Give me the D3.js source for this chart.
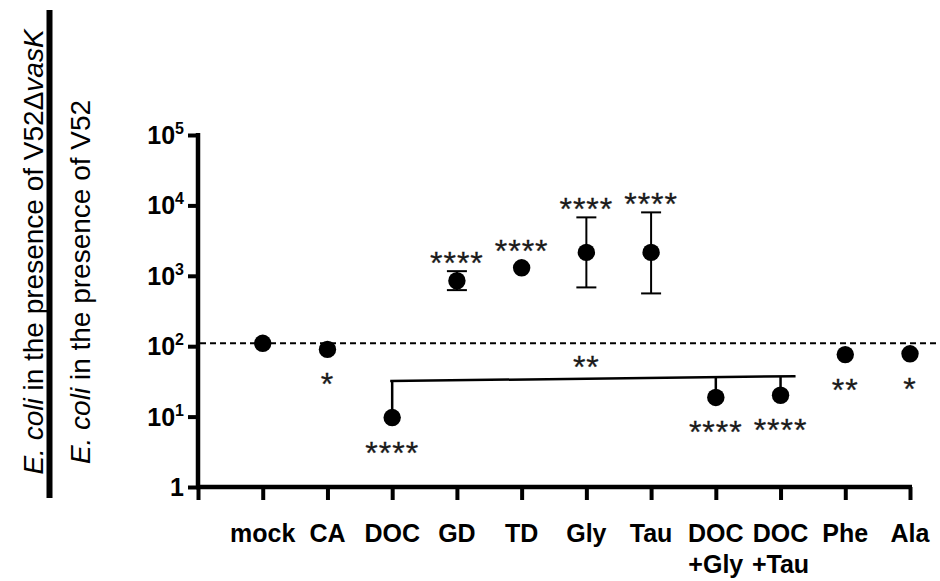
<!DOCTYPE html>
<html><head><meta charset="utf-8">
<script src="https://cdn.jsdelivr.net/npm/d3@7"></script>
<style>body{margin:0;background:#fff;} svg{display:block;}</style>
</head><body>
<svg id="chart" width="940" height="581"></svg>
<script>
// ---- data ----
const categories = ["mock","CA","DOC","GD","TD","Gly","Tau","DOC\n+Gly","DOC\n+Tau","Phe","Ala"];
const means      = [110, 90, 9.7, 850, 1300, 2150, 2150, 18.7, 20.1, 76, 78];
const errLow     = [null, null, null, 626, null, 684, 562, null, null, null, null];
const errHigh    = [null, null, null, 1164, null, 6760, 7960, null, null, null, null];
const significance = ["", "*", "****", "****", "****", "****", "****", "****", "****", "**", "*"];
const sigSide      = ["", "below", "below", "above", "above", "above", "above", "below", "below", "below", "below"];
const yTickValues    = [1, 10, 100, 1000, 10000, 100000];
const yTickExponents = ["", "1", "2", "3", "4", "5"];
const referenceLevel = 110;
const bracketGroup   = ["DOC", "DOC\n+Gly", "DOC\n+Tau"];
const bracketLevels  = [32, 37.5];   // bracket height at left / right end
const bracketLabel   = "**";

// ---- chart ----
const svg = d3.select("#chart");
const FONT = "'Liberation Sans', Arial, Helvetica, sans-serif";
const x = d3.scaleLinear().domain([0, categories.length]).range([198, 910]);
const y = d3.scaleLog().domain([1, 1e5]).range([487, 135]);
const xi = c => x(categories.indexOf(c) + 1);

// y axis ticks
const gy = svg.append("g").attr("transform", `translate(${x(0)},0)`)
  .call(d3.axisLeft(y).tickValues(yTickValues).tickSize(10).tickSizeOuter(0).tickFormat(""));
gy.select(".domain").remove();
gy.selectAll(".tick line").attr("stroke", "#000").attr("stroke-width", 4);

// x axis ticks
const gx = svg.append("g").attr("transform", `translate(0,${y(1)})`)
  .call(d3.axisBottom(x).tickValues(d3.range(0, categories.length + 1)).tickSize(13).tickSizeOuter(0).tickFormat(""));
gx.select(".domain").remove();
gx.selectAll(".tick line").attr("stroke", "#000").attr("stroke-width", 4);

// axis lines
svg.append("line").attr("x1", x(0)).attr("x2", x(0)).attr("y1", y(1e5) - 2).attr("y2", y(1) + 2)
  .attr("stroke", "#000").attr("stroke-width", 4.5);
svg.append("line").attr("x1", x(0) - 2).attr("x2", x(categories.length) + 2).attr("y1", y(1)).attr("y2", y(1))
  .attr("stroke", "#000").attr("stroke-width", 4.5);

// y tick labels
yTickValues.forEach((v, i) => {
  const t = svg.append("text").attr("x", x(0) - 14).attr("y", y(v) + 9)
    .attr("text-anchor", "end").attr("font-family", FONT).attr("font-weight", "bold").attr("font-size", 25);
  if (yTickExponents[i] === "") { t.text("1"); }
  else {
    t.append("tspan").text("10");
    t.append("tspan").attr("dy", -10).attr("font-size", 16).text(yTickExponents[i]);
  }
});

// x tick labels
categories.forEach((c, i) => {
  const t = svg.append("text").attr("x", x(i + 1)).attr("y", 542)
    .attr("text-anchor", "middle").attr("font-family", FONT).attr("font-weight", "bold").attr("font-size", 25);
  c.split("\n").forEach((line, j) => {
    t.append("tspan").attr("x", x(i + 1)).attr("dy", j === 0 ? 0 : 31).text(line);
  });
});

// reference dashed line
svg.append("line").attr("x1", x(0) + 2).attr("x2", 936).attr("y1", y(referenceLevel)).attr("y2", y(referenceLevel))
  .attr("stroke", "#000").attr("stroke-width", 2).attr("stroke-dasharray", "6,4");

// bracket
const bx0 = xi(bracketGroup[0]), bxLast = xi(bracketGroup[bracketGroup.length - 1]);
const bxEnd = bxLast + 15;
const byAt = xv => y(bracketLevels[0]) + (y(bracketLevels[1]) - y(bracketLevels[0])) * (xv - (bx0 - 2)) / (bxEnd - (bx0 - 2));
svg.append("line").attr("x1", bx0 - 2).attr("x2", bxEnd).attr("y1", byAt(bx0 - 2)).attr("y2", byAt(bxEnd))
  .attr("stroke", "#000").attr("stroke-width", 2.5);
bracketGroup.forEach(c => {
  const i = categories.indexOf(c);
  svg.append("line").attr("x1", xi(c)).attr("x2", xi(c)).attr("y1", byAt(xi(c))).attr("y2", y(means[i]))
    .attr("stroke", "#000").attr("stroke-width", 2.5);
});

const starText = (sel) => sel.attr("text-anchor", "middle").attr("font-family", FONT).attr("font-size", 32)
  .attr("letter-spacing", 1).attr("fill", "#1a1a1a").attr("stroke", "#1a1a1a").attr("stroke-width", 0.3);

svg.append("text").attr("x", (bx0 + bxLast) / 2).attr("y", byAt((bx0 + bxLast) / 2) - 1)
  .call(starText).text(bracketLabel);

// error bars
categories.forEach((c, i) => {
  if (errLow[i] == null) return;
  const cx = x(i + 1);
  const g = svg.append("g").attr("stroke", "#000").attr("stroke-width", 2);
  g.append("line").attr("x1", cx).attr("x2", cx).attr("y1", y(errLow[i])).attr("y2", y(errHigh[i]));
  g.append("line").attr("x1", cx - 10).attr("x2", cx + 10).attr("y1", y(errLow[i])).attr("y2", y(errLow[i]));
  g.append("line").attr("x1", cx - 10).attr("x2", cx + 10).attr("y1", y(errHigh[i])).attr("y2", y(errHigh[i]));
});

// points
svg.append("g").selectAll("circle").data(means).join("circle")
  .attr("cx", (d, i) => x(i + 1)).attr("cy", d => y(d)).attr("r", 8.7).attr("fill", "#000");

// significance stars
categories.forEach((c, i) => {
  if (!significance[i]) return;
  let yy;
  if (sigSide[i] === "above") {
    const top = errHigh[i] != null ? y(errHigh[i]) : y(means[i]) - 8.7;
    yy = top + 3;
  } else {
    yy = y(means[i]) + 46;
  }
  svg.append("text").attr("x", x(i + 1)).attr("y", yy).call(starText).text(significance[i]);
});

// y-axis title (ratio)
const t1 = svg.append("text").attr("transform", "translate(42.5,252) rotate(-90)")
  .attr("text-anchor", "middle").attr("font-family", FONT).attr("font-size", 28);
t1.append("tspan").attr("font-style", "italic").text("E. coli");
t1.append("tspan").text(" in the presence of V52Δ");
t1.append("tspan").attr("font-style", "italic").text("vasK");
svg.append("rect").attr("x", 46.5).attr("y", 10).attr("width", 6).attr("height", 488).attr("fill", "#000");
const t2 = svg.append("text").attr("transform", "translate(90,282) rotate(-90)")
  .attr("text-anchor", "middle").attr("font-family", FONT).attr("font-size", 28);
t2.append("tspan").attr("font-style", "italic").text("E. coli");
t2.append("tspan").text(" in the presence of V52");
</script>
</body></html>
